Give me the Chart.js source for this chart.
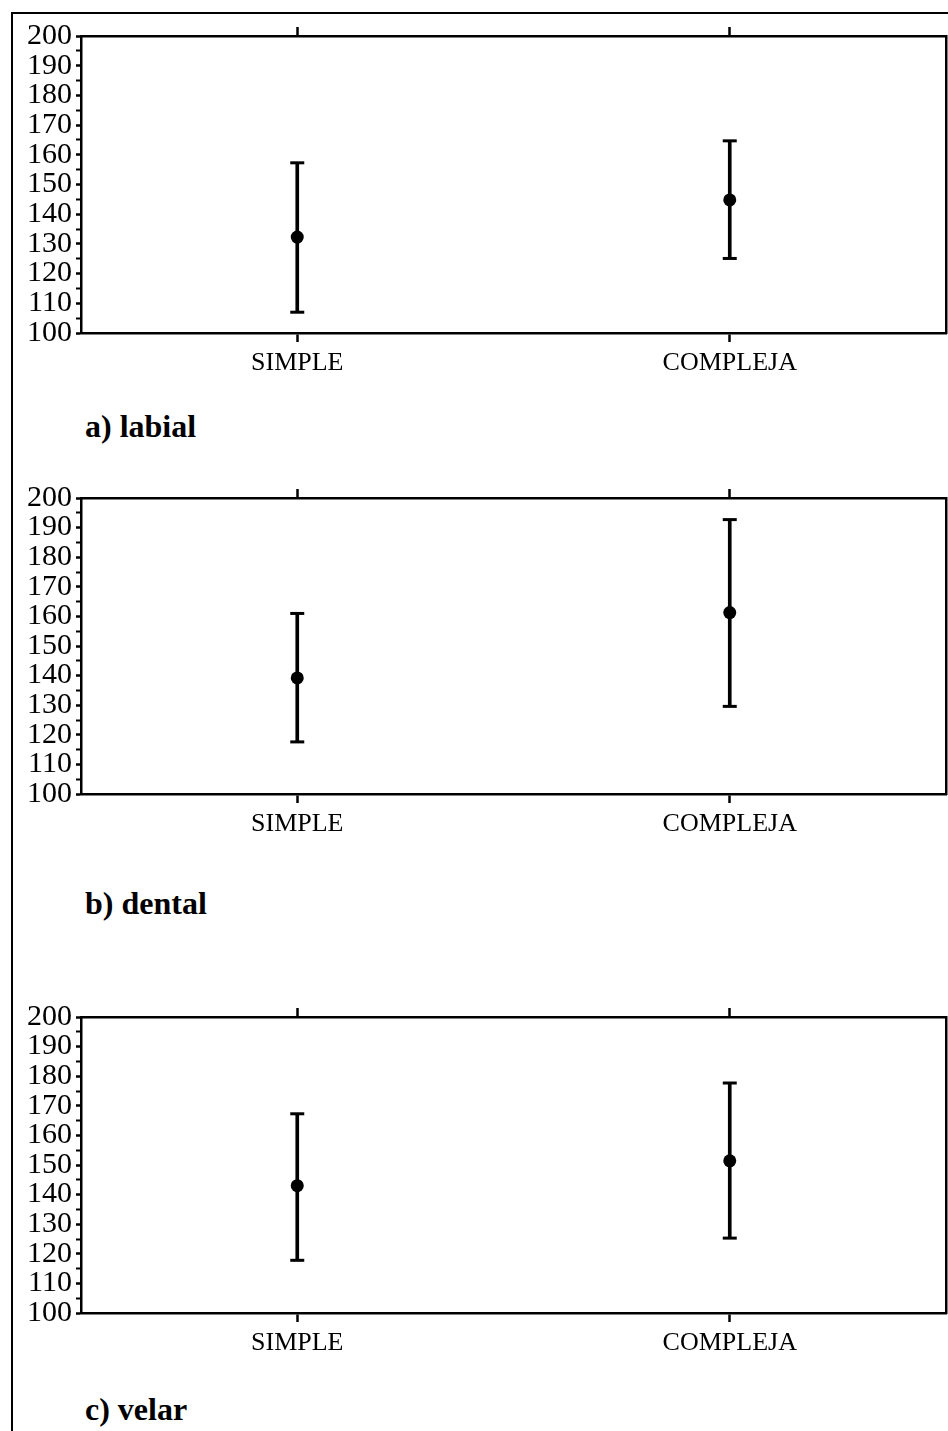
<!DOCTYPE html>
<html>
<head>
<meta charset="utf-8">
<script src="https://cdn.jsdelivr.net/npm/chart.js@4.4.1/dist/chart.umd.min.js"></script>
<style>
  html, body { margin: 0; padding: 0; background: #fff; }
  body { width: 948px; height: 1431px; position: relative; overflow: hidden; }
  .frame { position: absolute; left: 11px; top: 12px; right: 0; bottom: 0; border-left: 2px solid #000; border-top: 2px solid #000; }
  .panel { position: absolute; left: 14px; width: 942px; }
  .caption { position: absolute; left: 85px; font: bold 32px "Liberation Serif", "Times New Roman", serif; line-height: 1; color: #000; }
</style>
</head>
<body>
<div class="frame"></div>

<div class="panel" style="top:14px;height:369px"><canvas id="labial"></canvas></div>
<div class="caption" style="top:410px">a) labial</div>

<div class="panel" style="top:476px;height:368px"><canvas id="dental"></canvas></div>
<div class="caption" style="top:887px">b) dental</div>

<div class="panel" style="top:995px;height:368px"><canvas id="velar"></canvas></div>
<div class="caption" style="top:1393px">c) velar</div>

<script>
const categories = ['SIMPLE', 'COMPLEJA'];
const yTickLabels = ['100', '110', '120', '130', '140', '150', '160', '170', '180', '190', '200'];

// mean with lower / upper end of the interval, per category
const labialMean = [132.3, 144.8];
const labialLow = [107.0, 125.1];
const labialHigh = [157.3, 164.7];

const dentalMean = [139.2, 161.3];
const dentalLow = [117.6, 129.6];
const dentalHigh = [161.0, 192.7];

const velarMean = [143.0, 151.4];
const velarLow = [117.8, 125.3];
const velarHigh = [167.3, 177.7];

const SERIF = '"Liberation Serif", "Times New Roman", serif';
const INK = '#000';

function axisGrid(tickLength) {
  return {
    offset: false,
    drawOnChartArea: false,
    drawTicks: true,
    tickLength: tickLength,
    tickWidth: 2.5,
    tickColor: INK
  };
}

function makeChart(id, mean, low, high) {
  const caps = [];
  categories.forEach((c, i) => {
    caps.push({ x: c, y: low[i] });
    caps.push({ x: c, y: high[i] });
  });

  return new Chart(document.getElementById(id), {
    type: 'line',
    data: {
      labels: categories,
      datasets: [
        {
          type: 'bar',
          data: low.map((v, i) => [v, high[i]]),
          backgroundColor: INK,
          borderWidth: 0,
          barThickness: 3,
          order: 3
        },
        {
          data: caps,
          showLine: false,
          pointStyle: 'line',
          pointRadius: 7,
          pointBorderWidth: 3,
          pointBorderColor: INK,
          order: 2
        },
        {
          data: mean,
          showLine: false,
          pointStyle: 'circle',
          pointRadius: 6.5,
          pointBorderWidth: 0,
          pointBackgroundColor: INK,
          order: 1
        }
      ]
    },
    options: {
      responsive: true,
      maintainAspectRatio: false,
      animation: false,
      events: [],
      layout: { padding: 0 },
      plugins: {
        legend: { display: false },
        tooltip: { enabled: false },
        title: { display: false }
      },
      scales: {
        x: {
          type: 'category',
          position: 'bottom',
          offset: true,
          grid: axisGrid(9),
          border: { display: true, color: INK, width: 2.5 },
          ticks: {
            color: INK,
            font: { family: SERIF, size: 26 },
            padding: 6,
            maxRotation: 0,
            autoSkip: false
          },
          afterFit: s => { s.height = 50; }
        },
        xTop: {
          type: 'category',
          position: 'top',
          labels: categories,
          offset: true,
          grid: axisGrid(9),
          border: { display: true, color: INK, width: 2.5 },
          ticks: { display: false },
          afterFit: s => { s.height = 22; }
        },
        y: {
          type: 'linear',
          position: 'left',
          min: 100,
          max: 200,
          grid: {
            drawOnChartArea: false,
            drawTicks: true,
            tickLength: 5,
            tickColor: INK,
            tickWidth: ctx => (ctx.tick && ctx.tick.value % 10 === 0 ? 2.5 : 2)
          },
          border: { display: true, color: INK, width: 2.5 },
          ticks: {
            stepSize: 5,
            autoSkip: false,
            padding: 4,
            color: INK,
            font: { family: SERIF, size: 30 },
            callback: v => (yTickLabels.includes(String(v)) ? String(v) : '')
          },
          afterFit: s => { s.width = 67; }
        },
        yRight: {
          type: 'linear',
          position: 'right',
          min: 100,
          max: 200,
          grid: { drawOnChartArea: false, drawTicks: false },
          border: { display: true, color: INK, width: 2.5 },
          ticks: { display: false },
          afterFit: s => { s.width = 2; }
        }
      }
    }
  });
}

makeChart('labial', labialMean, labialLow, labialHigh);
makeChart('dental', dentalMean, dentalLow, dentalHigh);
makeChart('velar', velarMean, velarLow, velarHigh);
</script>
</body>
</html>
